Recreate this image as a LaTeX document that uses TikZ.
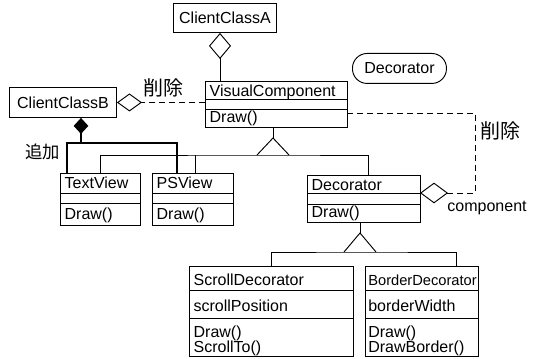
\documentclass[tikz,border=0pt]{standalone}
\usepackage{fontspec}
\setmainfont{Liberation Sans}
\newfontfamily\cjkfont{Noto Sans CJK JP}
\usetikzlibrary{arrows.meta,positioning,calc}

\begin{document}
\begin{tikzpicture}[x=0.75pt,y=0.75pt,yscale=-1,xscale=1,line width=0.7pt,
  every node/.style={font=\fontsize{12}{14}\selectfont},
  clsname/.style={draw, anchor=north west, inner xsep=3.5pt, inner ysep=0pt, outer sep=0pt, align=left},
  clspart/.style={draw, below=0pt of #1, inner xsep=3.5pt, inner ysep=0pt, outer sep=0pt, align=left},
  plainbox/.style={draw, anchor=north west, inner sep=0pt},
  cjk/.style={font=\cjkfont\fontsize{15}{18}\selectfont, inner sep=1pt},
  dashline/.style={dash pattern=on 4.5pt off 3pt},
  boldline/.style={line width=2pt}]
\useasboundingbox (0,0) rectangle (539,359);

%Shape: Rectangle ClientClassA
\node[plainbox, minimum width=77.25pt, minimum height=21.75pt] (cca) at (173,3) {ClientClassA};
%Shape: Rectangle ClientClassB
\node[plainbox, minimum width=80.25pt, minimum height=22.5pt] (ccb) at (9,87) {ClientClassB};
%Shape: Rounded Rectangle
\node[plainbox, rounded corners=11pt, minimum width=70.5pt, minimum height=22.5pt] (deco) at (352,53) {Decorator};

%Class VisualComponent
\node[clsname, text width=99.5pt, text height=12pt, text depth=1.5pt] (vc-n) at (205,81) {VisualComponent};
\node[clspart=vc-n, text width=99.5pt, text height=7.5pt, text depth=0pt] (vc-a) {};
\node[clspart=vc-a, text width=99.5pt, text height=10.5pt, text depth=3pt] (vc-o) {Draw()};

%Class TextView
\node[clsname, text width=53pt, text height=12pt, text depth=3pt] (tv-n) at (60,173) {TextView};
\node[clspart=tv-n, text width=53pt, text height=7.5pt, text depth=0pt] (tv-a) {};
\node[clspart=tv-a, text width=53pt, text height=12.75pt, text depth=3.75pt] (tv-o) {Draw()};

%Class PSView
\node[clsname, text width=53.75pt, text height=12pt, text depth=3pt] (ps-n) at (152,173) {PSView};
\node[clspart=ps-n, text width=53.75pt, text height=7.5pt, text depth=0pt] (ps-a) {};
\node[clspart=ps-a, text width=53.75pt, text height=12.75pt, text depth=3.75pt] (ps-o) {Draw()};

%Class Decorator
\node[clsname, text width=77.75pt, text height=12pt, text depth=1.5pt] (dec-n) at (307,175) {Decorator};
\node[clspart=dec-n, text width=77.75pt, text height=8.25pt, text depth=0pt] (dec-a) {};
\node[clspart=dec-a, text width=77.75pt, text height=10.5pt, text depth=3pt] (dec-o) {Draw()};

%Class ScrollDecorator
\node[clsname, text width=116pt, text height=15pt, text depth=3pt] (sd-n) at (189,266) {ScrollDecorator};
\node[clspart=sd-n, text width=116pt, text height=16.5pt, text depth=4.5pt] (sd-a) {scrollPosition};
\node[clspart=sd-a, text width=116pt, text height=14.5pt, text depth=14pt] (sd-o) {Draw()\\[-2.5pt]ScrollTo()};

%Class BorderDecorator
\node[clsname, text width=79.75pt, inner xsep=2.5pt, text height=15pt, text depth=3pt, font=\fontsize{11}{13}\selectfont] (bd-n) at (365,266) {BorderDecorator};
\node[clspart=bd-n, text width=79.75pt, inner xsep=2.5pt, text height=16.5pt, text depth=4.5pt] (bd-a) {borderWidth};
\node[clspart=bd-a, text width=79.75pt, inner xsep=2.5pt, text height=14.5pt, text depth=14pt] (bd-o) {Draw()\\[-2.5pt]DrawBorder()};

%Aggregation ClientClassA
\coordinate (ja) at ($(vc-n.north west)+(15,0)$);
\draw[-{Diamond[open,length=19.5pt,width=16.5pt]}] (ja) -- (ja |- cca.south);

%Aggregation ClientClassB (deleted)
\draw[dashline, -{Diamond[open,length=18.75pt,width=13.5pt]}] (ccb.east -| vc-n.west) -- node[pos=0.47, above=3pt, cjk] (del-a) {削除} (ccb.east);

%Aggregation ClientClassB (added)
\coordinate (jb) at (81,143);
\draw[boldline, -{Diamond[length=12pt,width=11pt]}] (jb) -- (jb |- ccb.south);
\draw[boldline] ($(tv-n.north west)+(7,0)$) |- (jb) -| ($(ps-n.north west)+(25,0)$);
\node[cjk, font=\cjkfont\fontsize{13}{16}\selectfont] (add) at (43,152) {追加};

%Generalization VisualComponent
\coordinate (jv) at (273,155);
\draw (vc-o.south -| jv) -- ($(jv)+(0,-17)$);
\draw ($(jv)+(-16,0)$) -- ($(jv)+(0,-17)$) -- ($(jv)+(16,0)$);
\draw (tv-n.north) |- (jv) -| ($(dec-n.north)+(4.5,0)$);
\coordinate (jp) at ($(ps-n.north)+(2.5,0)$);
\draw (jp) -- (jp |- jv);

%Generalization Decorator
\coordinate (jd) at (360,252);
\draw (dec-o.south -| jd) -- ($(jd)+(0,-19)$);
\draw ($(jd)+(-16,0)$) -- ($(jd)+(0,-19)$) -- ($(jd)+(16,0)$);
\draw (sd-n.north) |- (jd) -| ($(bd-n.north east)+(-22,0)$);

%Aggregation component (deleted)
\coordinate (jc) at ($(dec-a.north east)+(55,0)$);
\draw[dashline, -{Diamond[open,length=21pt,width=15.5pt]}] ($(vc-o.north east)+(0,4)$) -| node[pos=0.61, right=3pt, cjk] (del-b) {削除} (jc) -- (dec-a.north east);
\node[anchor=west, inner sep=0pt] (comp) at ($(dec-a.north east)+(27,15)$) {component};

\end{tikzpicture}
\end{document}
